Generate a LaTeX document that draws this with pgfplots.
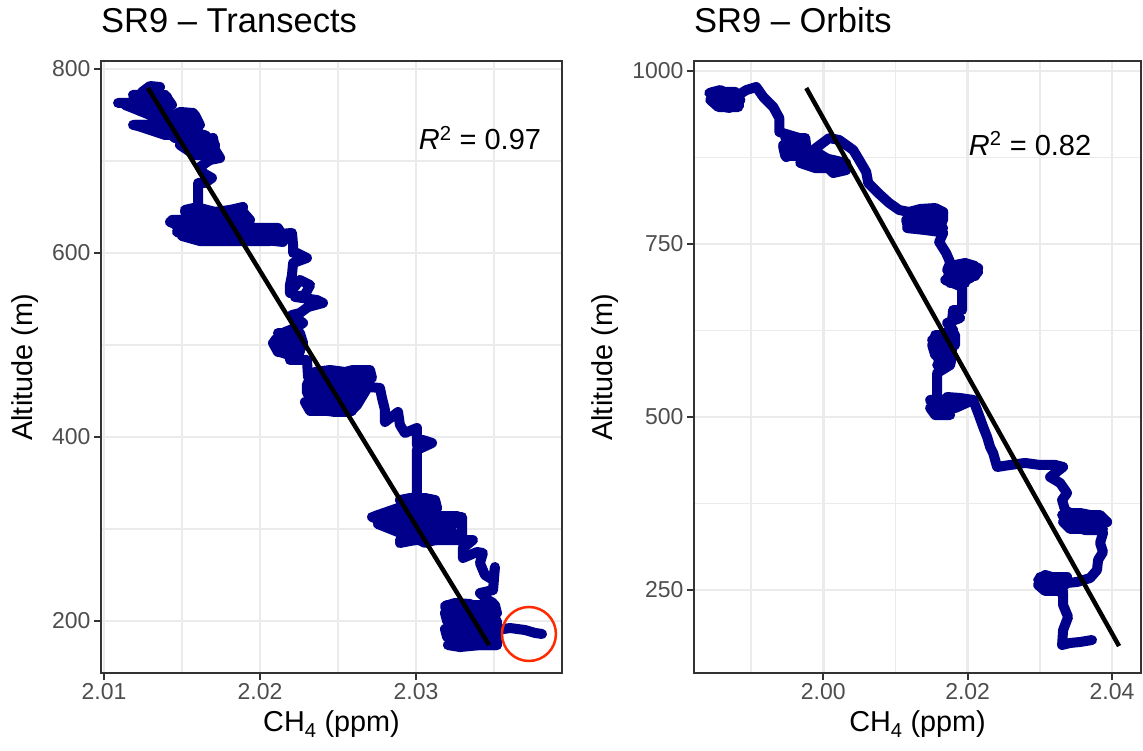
\documentclass[border=0pt]{standalone}
\usepackage{pgfplots}
\pgfplotsset{compat=1.18}
\usepackage{fontspec}
\setmainfont{Liberation Sans}
\definecolor{ptc}{HTML}{00008B}
\definecolor{gridc}{HTML}{EBEBEB}
\definecolor{axc}{HTML}{333333}
\definecolor{tickc}{HTML}{4D4D4D}
\definecolor{circ}{HTML}{FF2A00}
\pgfplotsset{
  myax/.style={
    scale only axis, height=612pt,
    axis line style={axc, line width=1.9pt},
    tick align=outside,
    xtick pos=bottom, ytick pos=left,
    major tick length=7pt,
    minor tick length=0pt,
    tick style={axc, line width=1.9pt},
    grid=both,
    major grid style={gridc, line width=2.6pt},
    minor grid style={gridc, line width=1.3pt},
    tick label style={font=\fontsize{23}{27}\selectfont, text=tickc},
    /pgf/number format/assume math mode=true,
    xlabel={CH\textsubscript{4} (ppm)},
    ylabel={Altitude (m)},
    every axis x label/.style={at={(axis description cs:0.5,-0.0964)}, anchor=base, font=\fontsize{28.8}{34}\selectfont, text=black},
    title style={font=\fontsize{34.5}{40}\selectfont, anchor=base west, at={(axis description cs:0,1.036)}, inner sep=0pt},
  },
  trail/.style={ptc, line width=10pt, line join=round, line cap=round, mark=*, mark size=5pt, mark options={line width=0.1pt, fill=ptc, draw=ptc}},
  fill/.style={ptc, line width=10pt, line join=round, line cap=round, no marks},
  fitline/.style={black, line width=4.5pt, no marks},
}
\begin{document}
\begin{tikzpicture}
\path[use as bounding box] (0,0) rectangle (1143pt,751pt);
% ---------------- Left panel ----------------
\begin{axis}[myax, width=461pt, at={(101pt,78pt)}, anchor=south west,
  xmin=2.009808, xmax=2.039359, ymin=143.5, ymax=808.7,
  xtick={2.01,2.02,2.03}, xticklabels={2.01,2.02,2.03},
  minor xtick={2.015,2.025,2.035},
  ytick={200,400,600,800}, yticklabels={200,400,600,800},
  minor ytick={300,500,700},
  every axis y label/.style={at={(axis description cs:-0.165,0.5)}, rotate=90, anchor=center, font=\fontsize{28.8}{34}\selectfont, text=black},
  title={SR9 -- Transects}]
\addplot[trail] coordinates {
(2.01090,763.1) (2.01167,763.1) (2.01250,763.1) (2.01244,775) (2.01295,781.5) (2.01359,780.4)
(2.01308,771.8) (2.01186,771.8) (2.01295,766.3) (2.01359,760.9) (2.01404,769.6) (2.01410,759.8)
(2.01359,753.3) (2.01423,746.8) (2.01487,753.3) (2.01571,752.2) (2.01551,742.4) (2.01455,739.2)
(2.01295,739.2) (2.01186,739.2) (2.01295,735.9) (2.01391,733.7) (2.01455,725) (2.01519,728.3)
(2.01596,737) (2.01615,726.1) (2.01551,717.4) (2.01506,719.6) (2.01615,712) (2.01699,725)
(2.01712,712) (2.01744,703.3) (2.01679,701.1) (2.01615,693.5) (2.01635,687) (2.01692,681.5)
(2.01647,676.1) (2.01603,676.1) (2.01603,663.1) (2.01603,650) (2.01519,646.8) (2.01615,648.9)
(2.01712,644.6) (2.01808,646.8) (2.01891,650) (2.01872,639.1) (2.01744,635.9) (2.01615,638.1)
(2.01487,635.9) (2.01423,633.7) (2.01519,627.2) (2.01615,630.5) (2.01712,625) (2.01808,629.4)
(2.01936,627.2) (2.02000,622.8) (2.02128,621.8) (2.02147,612) (2.02032,614.1) (2.01904,616.3)
(2.01776,618.5) (2.01647,618.5) (2.01519,620.7) (2.01468,622.8) (2.01615,614.1) (2.01872,622.8)
(2.02064,619.6) (2.02205,621.8) (2.02212,608.7) (2.02212,600) (2.02237,600) (2.02301,594.6)
(2.02212,589.1) (2.02205,576.1) (2.02192,565.2) (2.02192,556.5) (2.02256,570.7) (2.02321,565.2)
(2.02288,554.4) (2.02224,552.2) (2.02365,548.9) (2.02404,545.7) (2.02308,541.3) (2.02256,534.8)
(2.02205,532.6) (2.02276,523.9) (2.02224,518.5) (2.02160,514.1) (2.02096,505.4) (2.02128,492.4)
(2.02224,487) (2.02276,500) (2.02192,500) (2.02192,483.7) (2.02301,483.7) (2.02308,465.2)
(2.02353,470.7) (2.02449,472.8) (2.02545,470.7) (2.02596,472.8) (2.02705,472.8) (2.02718,464.1)
(2.02641,462) (2.02545,464.1) (2.02449,462) (2.02353,458.7) (2.02301,451.1) (2.02417,448.9)
(2.02513,453.3) (2.02609,451.1) (2.02577,442.4) (2.02481,440.2) (2.02385,440.2) (2.02301,434.8)
(2.02385,429.4) (2.02481,427.2) (2.02577,427.2) (2.02622,434.8) (2.02692,454.4) (2.02769,453.3)
(2.02782,442.4) (2.02801,429.4) (2.02801,416.3) (2.02885,427.2) (2.02897,413.1) (2.02929,404.4)
(2.03006,409.8) (2.03006,391.3) (2.03045,396.7) (2.03103,393.5) (2.03006,385.9) (2.03006,369.6)
(2.03006,353.3) (2.03006,334.8) (2.02897,331.5) (2.02962,333.7) (2.03058,333.7) (2.03122,331.5)
(2.03122,315.2) (2.03026,320.7) (2.02929,318.5) (2.02833,315.2) (2.02718,313) (2.02801,307.6)
(2.02897,304.4) (2.03026,304.4) (2.03154,309.8) (2.03263,313) (2.03295,313) (2.03295,298.9)
(2.03295,291.3) (2.03186,298.9) (2.03090,293.5) (2.02994,288) (2.02897,284.8) (2.02962,293.5)
(2.03058,284.8) (2.03122,288) (2.03365,288) (2.03301,279.4) (2.03301,268.5) (2.03391,275)
(2.03429,273.9) (2.03410,263) (2.03442,250) (2.03494,244.6) (2.03506,258.7) (2.03494,233.7)
(2.03410,230.4) (2.03462,222.8) (2.03494,219.6) (2.03474,206.5) (2.03410,212) (2.03346,218.5)
(2.03250,219.6) (2.03186,216.3) (2.03205,206.5) (2.03282,209.8) (2.03378,203.3) (2.03474,201.1)
(2.03506,192.4) (2.03410,192.4) (2.03314,195.7) (2.03218,195.7) (2.03199,184.8) (2.03250,179.3)
(2.03346,181.5) (2.03442,179.3) (2.03519,173.9) (2.03410,173.9) (2.03282,171.7) (2.03205,173.9)
(2.03378,187) (2.03519,190.2) (2.03603,192.4) (2.03699,190.2) (2.03763,187) (2.03808,185.9)
};
\addplot[fill] coordinates {(2.01231,771.8) (2.01391,771.8) (2.01436,760.9) (2.01135,760.9) (2.01295,750) (2.01583,750) (2.01615,739.2) (2.01199,739.2) (2.01391,728.3) (2.01647,728.3) (2.01712,717.4) (2.01487,717.4) (2.01583,706.5) (2.01731,706.5)};
\addplot[fill] coordinates {(2.01519,644.6) (2.01891,644.6) (2.01936,635.9) (2.01436,635.9) (2.01474,627.2) (2.02115,627.2) (2.02147,618.5) (2.01500,618.5) (2.01615,613) (2.02064,613)};
\addplot[fill] coordinates {(2.02115,513) (2.02256,513) (2.02276,502.2) (2.02083,502.2) (2.02115,492.4) (2.02256,492.4)};
\addplot[fill] coordinates {(2.02321,467.4) (2.02705,467.4) (2.02673,457.6) (2.02301,457.6) (2.02301,447.8) (2.02628,447.8) (2.02609,438) (2.02288,438) (2.02321,428.3) (2.02590,428.3)};
\addplot[fill] coordinates {(2.02897,331.5) (2.03122,331.5) (2.03135,322.8) (2.02885,322.8) (2.02737,314.1) (2.03263,314.1) (2.03250,305.4) (2.02756,305.4) (2.02885,296.7) (2.03154,296.7) (2.03135,288) (2.02897,288)};
\addplot[fill] coordinates {(2.03199,217.4) (2.03506,217.4) (2.03519,208.7) (2.03186,208.7) (2.03199,200) (2.03519,200) (2.03519,191.3) (2.03186,191.3) (2.03199,182.6) (2.03519,182.6) (2.03519,173.9) (2.03218,173.9)};
\addplot[fitline] coordinates {(2.01282,779.3) (2.03468,173.9)};
\node[font=\fontsize{29}{34}\selectfont, anchor=base] at (axis cs:2.0341,712) {\textit{R}\textsuperscript{2} = 0.97};
\draw[circ, line width=2.5pt] (axis cs:2.03724,185.9) circle[radius=27pt];
\end{axis}
% ---------------- Right panel ----------------
\begin{axis}[myax, width=447pt, at={(694pt,78pt)}, anchor=south west,
  xmin=1.9821, xmax=2.04401, ymin=130.1, ymax=1014.5,
  xtick={2.00,2.02,2.04}, xticklabels={2.00,2.02,2.04},
  minor xtick={1.99,2.01,2.03},
  ytick={250,500,750,1000}, yticklabels={250,500,750,1000},
  minor ytick={375,625,875},
  every axis y label/.style={at={(axis description cs:-0.199,0.5)}, rotate=90, anchor=center, font=\fontsize{28.8}{34}\selectfont, text=black},
  title={SR9 -- Orbits}]
\addplot[trail] coordinates {
(1.98422,968.2) (1.98574,972.5) (1.98713,965.3) (1.98505,955.2) (1.98685,946.5) (1.98837,950.9)
(1.98782,962.4) (1.98934,972.5) (1.99073,976.9) (1.99170,962.4) (1.99308,948) (1.99391,932.1)
(1.99391,911.9) (1.99529,907.5) (1.99668,903.2) (1.99612,893.1) (1.99446,893.1) (1.99488,875.7)
(1.99682,885.8) (1.99862,871.4) (2.00028,864.2) (2.00138,852.6) (2.00318,856.9) (2.00221,864.2)
(2.00083,871.4) (1.99862,885.8) (2.00083,903.2) (2.00221,900.3) (2.00415,885.8) (2.00498,871.4)
(2.00595,854.1) (2.00623,838.2) (2.00761,823.7) (2.00913,809.3) (2.01052,799.1) (2.01190,796.3)
(2.01343,800.6) (2.01550,802) (2.01661,796.3) (2.01647,781.8) (2.01481,777.5) (2.01273,781.8)
(2.01163,773.1) (2.01412,770.2) (2.01619,767.4) (2.01661,765.9) (2.01606,752.9) (2.01702,737)
(2.01744,726.9) (2.01758,722.6) (2.01716,712.4) (2.01827,719.7) (2.01965,722.6) (2.02104,718.2)
(2.02145,709.6) (2.02035,700.9) (2.01896,693.7) (2.01758,698) (2.01689,698) (2.01924,687.9)
(2.01924,669.1) (2.01924,654.6) (2.01799,654.6) (2.01785,640.2) (2.01896,643.1) (2.01716,635.9)
(2.01799,625.7) (2.01619,618.5) (2.01509,611.3) (2.01689,604.1) (2.01827,611.3) (2.01758,589.6)
(2.01619,582.4) (2.01550,596.8) (2.01647,567.9) (2.01758,575.2) (2.01578,563.6) (2.01578,546.3)
(2.01578,524.6) (2.01481,524.6) (2.01550,510.1) (2.01689,502.9) (2.01827,517.4) (2.01716,528.9)
(2.01896,527.5) (2.02076,524.6) (2.02145,505.8) (2.02215,485.6) (2.02270,471.1) (2.02311,456.7)
(2.02353,448) (2.02408,427.8) (2.02588,430.7) (2.02796,433.6) (2.03003,430.7) (2.03211,430.7)
(2.03322,427.8) (2.03142,413.3) (2.03280,404.7) (2.03377,390.2) (2.03308,380.1) (2.03349,365.6)
(2.03419,361.3) (2.03557,361.3) (2.03696,358.4) (2.03834,354.1) (2.03931,348.3) (2.03765,344)
(2.03557,341.1) (2.03349,346.9) (2.03626,336.7) (2.03834,336.7) (2.03875,332.4) (2.03834,318)
(2.03875,305) (2.03806,293.4) (2.03792,278.9) (2.03696,267.4) (2.03516,261.6) (2.03377,260.2)
(2.03211,267.4) (2.03073,271.7) (2.02976,264.5) (2.03073,252.9) (2.03211,250) (2.03322,245.7)
(2.03322,228.4) (2.03391,211) (2.03322,192.2) (2.03308,170.6) (2.03419,173.5) (2.03557,174.9)
(2.03723,177.8)
};
\addplot[fill] coordinates {(1.98464,969.7) (1.98782,969.7) (1.98851,958.1) (1.98436,958.1) (1.98547,948) (1.98824,948)};
\addplot[fill] coordinates {(1.99474,903.2) (1.99751,903.2) (1.99765,890.2) (1.99446,890.2) (1.99474,877.2) (1.99889,877.2) (2.00318,867.1) (1.99682,867.1) (1.99889,859.8) (2.00235,859.8)};
\addplot[fill] coordinates {(2.01176,796.3) (2.01661,796.3) (2.01661,784.7) (2.01149,784.7) (2.01176,773.1) (2.01661,773.1)};
\addplot[fill] coordinates {(2.01758,715.3) (2.02145,715.3) (2.02104,703.8) (2.01730,703.8) (2.01758,693.7) (2.01965,693.7)};
\addplot[fill] coordinates {(2.01550,618.5) (2.01827,618.5) (2.01827,604.1) (2.01509,604.1) (2.01550,589.6) (2.01785,589.6) (2.01758,575.2) (2.01578,575.2)};
\addplot[fill] coordinates {(2.01509,524.6) (2.02076,524.6) (2.01827,513) (2.01481,513) (2.01550,502.9) (2.01758,502.9)};
\addplot[fill] coordinates {(2.03308,358.4) (2.03834,358.4) (2.03931,348.3) (2.03322,348.3) (2.03419,338.2) (2.03875,338.2)};
\addplot[fill] coordinates {(2.03003,268.8) (2.03377,268.8) (2.03349,257.3) (2.02976,257.3) (2.03073,248.6) (2.03322,248.6)};
\addplot[fitline] coordinates {(1.99765,975.4) (2.04097,169)};
\node[font=\fontsize{29}{34}\selectfont, anchor=base] at (axis cs:2.02865,878.6) {\textit{R}\textsuperscript{2} = 0.82};
\end{axis}
\end{tikzpicture}
\end{document}
